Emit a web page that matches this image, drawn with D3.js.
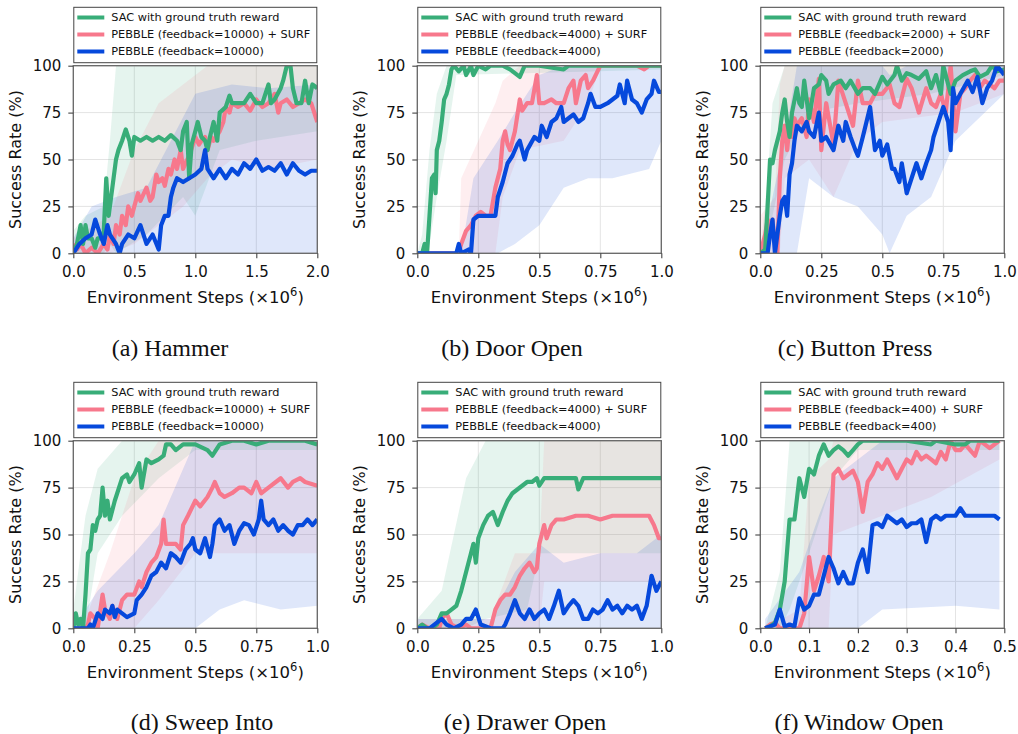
<!DOCTYPE html>
<html>
<head>
<meta charset="utf-8">
<script src="https://cdn.jsdelivr.net/npm/d3@7"></script>
<style>
body { margin: 0; background: #fff; }
text { font-family: "DejaVu Sans", sans-serif; }
</style>
</head>
<body>
<div id="chart"></div>
<script>
// ---- data: [step (x1e6), success %] ----
var yTicks = [0, 25, 50, 75, 100];
var xTicksLong = [0, 0.5, 1.0, 1.5, 2.0];
var xTickLabelsLong = ["0.0", "0.5", "1.0", "1.5", "2.0"];
var xTicksStd = [0, 0.25, 0.5, 0.75, 1.0];
var xTickLabelsStd = ["0.0", "0.25", "0.5", "0.75", "1.0"];
var xTicksShort = [0, 0.1, 0.2, 0.3, 0.4, 0.5];
var xTickLabelsShort = ["0.0", "0.1", "0.2", "0.3", "0.4", "0.5"];
var captions = ["(a) Hammer", "(b) Door Open", "(c) Button Press", "(d) Sweep Into", "(e) Drawer Open", "(f) Window Open"];
var feedback = ["10000", "4000", "2000", "10000", "4000", "400"];

var hammerSac = [[0,0],[0.03,5],[0.06,15],[0.08,5],[0.1,15],[0.12,8],[0.15,8],[0.18,3],[0.2,8],[0.23,8],[0.25,12],[0.27,40],[0.29,20],[0.31,30],[0.33,40],[0.35,50],[0.37,55],[0.4,60],[0.43,66],[0.46,60],[0.48,52],[0.5,62],[0.55,60],[0.6,62],[0.65,60],[0.7,62],[0.75,60],[0.8,63],[0.85,60],[0.88,55],[0.9,65],[0.93,70],[0.95,40],[0.97,58],[1.0,65],[1.02,70],[1.05,62],[1.08,60],[1.1,55],[1.12,62],[1.15,70],[1.18,60],[1.2,75],[1.25,78],[1.28,84],[1.3,80],[1.35,80],[1.4,80],[1.45,85],[1.5,80],[1.55,80],[1.6,90],[1.62,80],[1.65,82],[1.7,88],[1.72,92],[1.75,100],[1.78,100],[1.8,88],[1.83,80],[1.87,80],[1.9,92],[1.93,80],[1.96,90],[2.0,88]];
var hammerSurf = [[0,5],[0.03,2],[0.06,5],[0.1,0],[0.15,3],[0.2,0],[0.25,5],[0.28,2],[0.3,10],[0.33,5],[0.35,15],[0.38,10],[0.4,20],[0.43,15],[0.45,25],[0.48,20],[0.5,25],[0.53,32],[0.55,28],[0.6,35],[0.63,28],[0.65,30],[0.68,42],[0.7,38],[0.73,40],[0.75,36],[0.78,45],[0.8,42],[0.83,50],[0.85,45],[0.88,55],[0.9,45],[0.92,48],[0.95,52],[0.98,58],[1.0,62],[1.03,58],[1.05,60],[1.08,62],[1.1,55],[1.13,62],[1.15,60],[1.2,65],[1.23,70],[1.25,78],[1.28,75],[1.3,80],[1.35,78],[1.4,80],[1.45,76],[1.5,82],[1.55,78],[1.6,80],[1.65,85],[1.68,75],[1.7,80],[1.75,82],[1.8,78],[1.85,80],[1.9,82],[1.95,80],[2.0,70]];
var hammerPebble = [[0,0],[0.05,5],[0.1,8],[0.15,10],[0.18,18],[0.22,10],[0.25,5],[0.28,15],[0.3,10],[0.35,5],[0.38,0],[0.4,5],[0.45,10],[0.5,8],[0.55,15],[0.6,5],[0.65,10],[0.7,2],[0.72,15],[0.75,20],[0.78,20],[0.8,30],[0.82,35],[0.85,40],[0.9,38],[0.95,40],[1.0,42],[1.05,45],[1.08,55],[1.1,45],[1.15,40],[1.2,45],[1.25,40],[1.3,45],[1.35,42],[1.4,48],[1.45,45],[1.5,50],[1.55,44],[1.6,46],[1.65,44],[1.7,48],[1.75,42],[1.8,48],[1.85,44],[1.9,42],[1.95,44],[2.0,44]];
var hammerSacBand = [[0,0,12],[0.1,0,20],[0.25,0,25],[0.3,5,60],[0.35,0,100],[0.6,10,100],[0.9,30,100],[1.0,20,100],[1.2,55,100],[1.5,60,100],[2.0,65,100]];
var hammerSurfBand = [[0,0,8],[0.3,0,20],[0.5,5,55],[0.7,15,80],[0.9,25,90],[1.1,40,100],[1.3,50,100],[1.6,45,100],[2.0,50,100]];
var hammerPebbleBand = [[0,0,8],[0.15,0,25],[0.35,0,30],[0.6,0,35],[0.8,0,60],[1.0,0,85],[1.3,0,90],[1.6,0,88],[2.0,0,90]];

var doorSac = [[0,0],[0.02,0],[0.03,5],[0.04,0],[0.05,20],[0.06,40],[0.07,42],[0.075,32],[0.08,55],[0.09,60],[0.1,70],[0.11,82],[0.12,85],[0.13,90],[0.14,98],[0.15,100],[0.17,97],[0.19,100],[0.2,95],[0.22,100],[0.23,95],[0.25,100],[0.28,98],[0.3,100],[0.35,100],[0.38,98],[0.42,94],[0.44,100],[0.5,100],[0.6,98],[0.62,100],[1.0,100]];
var doorSurf = [[0,0],[0.17,0],[0.18,5],[0.2,12],[0.22,15],[0.24,20],[0.26,22],[0.28,20],[0.3,20],[0.32,35],[0.34,45],[0.35,60],[0.36,65],[0.37,58],[0.38,55],[0.39,60],[0.4,65],[0.42,82],[0.43,76],[0.45,80],[0.47,80],[0.49,95],[0.5,80],[0.52,80],[0.55,82],[0.57,80],[0.6,80],[0.62,88],[0.64,92],[0.65,80],[0.67,92],[0.69,95],[0.7,88],[0.72,92],[0.75,100],[0.9,100],[0.93,98],[0.95,100],[1.0,100]];
var doorPebble = [[0,0],[0.16,0],[0.17,5],[0.18,0],[0.21,2],[0.22,0],[0.23,18],[0.25,20],[0.32,20],[0.33,30],[0.35,38],[0.37,48],[0.39,52],[0.41,58],[0.42,60],[0.44,50],[0.45,55],[0.48,62],[0.5,60],[0.51,68],[0.53,62],[0.55,70],[0.57,72],[0.59,78],[0.6,70],[0.62,72],[0.64,74],[0.66,70],[0.68,72],[0.7,80],[0.71,85],[0.73,78],[0.75,78],[0.78,80],[0.8,82],[0.82,84],[0.83,90],[0.85,80],[0.86,92],[0.88,82],[0.9,80],[0.92,75],[0.94,82],[0.96,85],[0.97,92],[0.99,86],[1.0,86]];
var doorSacBand = [[0,0,0],[0.02,0,10],[0.05,5,55],[0.08,30,85],[0.12,60,100],[0.16,95,100],[1.0,98,100]];
var doorSurfBand = [[0,0,0],[0.17,0,0],[0.18,0,40],[0.25,0,60],[0.32,0,80],[0.35,30,92],[0.42,55,100],[0.6,60,100],[0.7,80,100],[0.75,100,100],[1.0,100,100]];
var doorPebbleBand = [[0,0,0],[0.18,0,0],[0.23,0,40],[0.33,0,60],[0.4,5,75],[0.5,15,95],[0.6,35,100],[0.7,40,100],[0.8,40,100],[0.95,45,100],[1.0,60,100]];

var buttonSac = [[0,0],[0.02,2],[0.03,25],[0.04,50],[0.05,48],[0.06,55],[0.08,65],[0.09,75],[0.1,82],[0.11,70],[0.12,62],[0.13,75],[0.15,88],[0.16,80],[0.17,78],[0.18,92],[0.2,72],[0.22,88],[0.24,90],[0.25,95],[0.27,92],[0.28,85],[0.3,90],[0.33,92],[0.35,88],[0.37,92],[0.4,85],[0.42,88],[0.45,88],[0.47,85],[0.5,94],[0.52,90],[0.55,95],[0.56,100],[0.58,92],[0.6,96],[0.62,95],[0.65,93],[0.68,97],[0.7,88],[0.72,95],[0.74,85],[0.75,100],[0.77,90],[0.78,85],[0.8,92],[0.83,95],[0.86,97],[0.88,98],[0.9,94],[0.93,96],[0.95,100],[0.97,97],[1.0,98]];
var buttonSurf = [[0,0],[0.02,10],[0.03,18],[0.04,12],[0.05,18],[0.06,5],[0.07,0],[0.08,40],[0.09,60],[0.1,68],[0.11,55],[0.12,68],[0.13,62],[0.14,72],[0.15,68],[0.17,72],[0.19,62],[0.2,82],[0.22,70],[0.24,93],[0.25,55],[0.27,80],[0.3,58],[0.32,92],[0.35,80],[0.38,68],[0.4,92],[0.42,80],[0.45,80],[0.47,85],[0.5,85],[0.53,90],[0.55,80],[0.57,78],[0.6,93],[0.62,88],[0.65,75],[0.68,88],[0.7,80],[0.72,78],[0.74,85],[0.76,75],[0.78,100],[0.8,65],[0.82,85],[0.84,88],[0.86,92],[0.88,95],[0.9,88],[0.92,92],[0.94,90],[0.96,88],[0.98,92],[1.0,92]];
var buttonPebble = [[0,0],[0.03,0],[0.04,10],[0.05,18],[0.06,0],[0.08,20],[0.09,28],[0.1,30],[0.11,20],[0.12,42],[0.13,48],[0.14,60],[0.15,68],[0.17,65],[0.19,70],[0.2,65],[0.22,62],[0.24,75],[0.25,60],[0.27,62],[0.3,55],[0.32,68],[0.34,60],[0.35,70],[0.37,62],[0.39,55],[0.4,52],[0.42,62],[0.45,78],[0.47,55],[0.49,60],[0.5,52],[0.52,58],[0.54,45],[0.55,45],[0.57,38],[0.58,48],[0.6,32],[0.62,40],[0.64,48],[0.66,40],[0.68,48],[0.7,55],[0.71,62],[0.73,70],[0.75,78],[0.77,70],[0.78,55],[0.79,88],[0.8,80],[0.82,85],[0.85,92],[0.87,86],[0.89,94],[0.91,80],[0.93,88],[0.95,92],[0.97,100],[1.0,95]];
var buttonSacBand = [[0,0,0],[0.03,0,40],[0.05,20,80],[0.1,50,100],[0.2,75,100],[0.4,80,100],[0.7,85,100],[1.0,95,100]];
var buttonSurfBand = [[0,0,20],[0.06,0,30],[0.08,0,90],[0.1,40,100],[0.2,50,100],[0.3,30,100],[0.4,60,100],[0.5,70,100],[0.8,75,100],[1.0,85,100]];
var buttonPebbleBand = [[0,0,0],[0.05,0,30],[0.1,0,60],[0.15,0,100],[0.2,40,100],[0.3,30,100],[0.4,25,100],[0.5,10,100],[0.53,0,95],[0.6,20,100],[0.7,30,100],[0.8,60,100],[1.0,85,100]];

var sweepSac = [[0,0],[0.01,8],[0.02,2],[0.03,5],[0.04,0],[0.05,18],[0.06,40],[0.07,42],[0.08,55],[0.09,52],[0.1,58],[0.11,60],[0.12,75],[0.13,60],[0.14,68],[0.15,58],[0.17,68],[0.18,72],[0.2,80],[0.22,82],[0.23,78],[0.25,82],[0.27,88],[0.28,75],[0.3,90],[0.32,88],[0.35,90],[0.37,92],[0.38,98],[0.4,98],[0.42,95],[0.45,98],[0.5,98],[0.55,95],[0.57,92],[0.6,98],[0.65,100],[0.7,100],[0.75,98],[0.8,100],[0.9,100],[0.95,100],[1.0,98]];
var sweepSurf = [[0,0],[0.05,0],[0.06,2],[0.07,8],[0.09,5],[0.1,0],[0.12,18],[0.13,10],[0.15,5],[0.16,12],[0.18,5],[0.2,15],[0.22,18],[0.25,18],[0.27,25],[0.28,22],[0.3,30],[0.32,35],[0.34,38],[0.36,45],[0.37,58],[0.38,45],[0.4,45],[0.42,45],[0.44,42],[0.45,55],[0.47,60],[0.5,68],[0.52,65],[0.55,70],[0.57,75],[0.58,78],[0.6,72],[0.62,70],[0.65,72],[0.68,75],[0.7,75],[0.73,72],[0.75,78],[0.77,72],[0.8,75],[0.83,78],[0.85,80],[0.88,75],[0.9,78],[0.93,80],[0.95,78],[1.0,76]];
var sweepPebble = [[0,0],[0.06,0],[0.07,2],[0.08,0],[0.1,8],[0.12,5],[0.13,10],[0.15,8],[0.16,12],[0.17,6],[0.18,10],[0.2,8],[0.22,6],[0.25,8],[0.26,15],[0.28,18],[0.3,22],[0.32,28],[0.34,30],[0.36,35],[0.38,32],[0.4,40],[0.42,38],[0.44,35],[0.46,42],[0.48,45],[0.49,48],[0.5,42],[0.52,40],[0.54,48],[0.56,38],[0.57,45],[0.58,55],[0.6,58],[0.62,52],[0.64,55],[0.66,45],[0.68,52],[0.7,56],[0.72,55],[0.74,50],[0.76,58],[0.77,68],[0.78,58],[0.8,55],[0.82,58],[0.84,52],[0.86,55],[0.88,52],[0.9,50],[0.92,55],[0.94,55],[0.96,58],[0.98,55],[1.0,58]];
var sweepSacBand = [[0,0,10],[0.05,0,60],[0.1,40,85],[0.2,60,100],[0.35,80,100],[0.5,95,100],[1.0,95,100]];
var sweepSurfBand = [[0,0,0],[0.05,0,5],[0.15,0,40],[0.25,0,80],[0.35,15,100],[0.5,40,100],[0.7,40,100],[1.0,40,100]];
var sweepPebbleBand = [[0,0,0],[0.1,0,20],[0.25,0,40],[0.35,0,55],[0.5,0,100],[0.6,10,100],[0.7,15,100],[0.85,10,100],[1.0,12,100]];

var drawerSac = [[0,0],[0.02,2],[0.04,0],[0.06,0],[0.08,2],[0.1,8],[0.12,8],[0.14,10],[0.16,12],[0.18,20],[0.2,30],[0.22,40],[0.23,45],[0.24,35],[0.25,48],[0.27,55],[0.29,60],[0.31,62],[0.33,55],[0.35,62],[0.37,68],[0.39,72],[0.41,74],[0.43,76],[0.45,78],[0.47,78],[0.49,80],[0.5,76],[0.52,80],[0.55,80],[0.6,80],[0.65,80],[0.66,74],[0.68,80],[0.75,80],[0.8,80],[0.9,80],[1.0,80]];
var drawerSurf = [[0,0],[0.02,2],[0.05,0],[0.09,0],[0.1,5],[0.12,8],[0.14,2],[0.17,0],[0.2,2],[0.22,0],[0.3,0],[0.31,5],[0.32,10],[0.34,15],[0.36,18],[0.38,18],[0.4,22],[0.42,28],[0.44,32],[0.46,35],[0.48,30],[0.49,32],[0.5,45],[0.51,50],[0.52,55],[0.53,48],[0.55,55],[0.57,58],[0.6,58],[0.65,60],[0.7,60],[0.75,58],[0.8,60],[0.85,60],[0.9,60],[0.95,60],[0.97,55],[0.99,48],[1.0,48]];
var drawerPebble = [[0,0],[0.05,0],[0.1,5],[0.12,2],[0.15,0],[0.18,2],[0.2,5],[0.22,5],[0.24,10],[0.26,2],[0.3,0],[0.35,0],[0.36,2],[0.38,8],[0.4,15],[0.42,8],[0.44,5],[0.46,10],[0.48,5],[0.5,8],[0.52,10],[0.54,5],[0.56,12],[0.58,20],[0.6,8],[0.62,12],[0.64,15],[0.66,12],[0.68,5],[0.7,5],[0.72,10],[0.74,8],[0.76,10],[0.78,15],[0.8,10],[0.82,12],[0.84,8],[0.86,12],[0.88,10],[0.9,12],[0.92,5],[0.94,12],[0.96,28],[0.98,20],[1.0,25]];
var drawerSacBand = [[0,0,5],[0.1,0,20],[0.2,0,80],[0.28,5,100],[0.45,10,100],[0.5,40,100],[1.0,40,100]];
var drawerSurfBand = [[0,0,5],[0.3,0,5],[0.4,0,40],[0.5,0,40],[0.52,25,100],[1.0,25,100]];
var drawerPebbleBand = [[0,0,5],[0.3,0,5],[0.4,0,30],[0.5,0,45],[0.6,0,35],[0.75,0,40],[0.9,0,40],[1.0,0,50]];

var windowSac = [[0.01,0],[0.02,1],[0.03,3],[0.04,10],[0.05,25],[0.06,58],[0.07,58],[0.08,80],[0.09,70],[0.1,85],[0.11,82],[0.12,92],[0.13,98],[0.14,92],[0.15,95],[0.16,97],[0.17,95],[0.18,92],[0.19,95],[0.2,98],[0.21,100],[0.3,100],[0.35,98],[0.36,100],[0.4,98],[0.42,98],[0.43,100],[0.49,100]];
var windowSurf = [[0.01,0],[0.02,2],[0.03,3],[0.04,0],[0.08,0],[0.09,8],[0.1,38],[0.11,20],[0.12,28],[0.13,38],[0.14,25],[0.15,82],[0.16,85],[0.17,80],[0.18,82],[0.19,84],[0.2,78],[0.21,62],[0.22,78],[0.23,82],[0.24,88],[0.25,85],[0.26,90],[0.27,85],[0.28,80],[0.29,85],[0.3,90],[0.31,88],[0.32,94],[0.33,90],[0.34,92],[0.35,90],[0.36,88],[0.37,94],[0.38,90],[0.39,100],[0.4,95],[0.41,95],[0.42,98],[0.43,95],[0.44,92],[0.45,100],[0.46,98],[0.47,96],[0.48,98],[0.49,100]];
var windowPebble = [[0.01,0],[0.02,1],[0.03,2],[0.04,10],[0.05,1],[0.06,2],[0.07,1],[0.08,16],[0.09,10],[0.1,12],[0.11,18],[0.12,18],[0.13,28],[0.14,38],[0.15,32],[0.16,24],[0.17,30],[0.18,24],[0.19,24],[0.2,35],[0.21,42],[0.22,30],[0.23,55],[0.24,56],[0.25,54],[0.26,60],[0.27,58],[0.28,56],[0.29,58],[0.3,54],[0.31,56],[0.32,56],[0.33,58],[0.34,46],[0.35,58],[0.36,60],[0.37,58],[0.38,60],[0.4,60],[0.41,64],[0.42,60],[0.48,60],[0.49,58]];
var windowSacBand = [[0.01,0,0],[0.04,0,30],[0.06,10,100],[0.1,40,100],[0.15,80,100],[0.2,95,100],[0.49,95,100]];
var windowSurfBand = [[0.01,0,0],[0.08,0,10],[0.1,0,80],[0.14,0,90],[0.15,50,100],[0.25,60,100],[0.35,70,100],[0.49,90,100]];
var windowPebbleBand = [[0.01,0,5],[0.08,0,30],[0.12,0,60],[0.15,0,80],[0.2,0,90],[0.25,10,100],[0.4,12,100],[0.49,10,100]];

// ---- panel table built from the arrays above ----
var panels = [
  {xMax: 2.0, xTicks: xTicksLong, xLabels: xTickLabelsLong, sac: hammerSac, surf: hammerSurf, peb: hammerPebble, sacBand: hammerSacBand, surfBand: hammerSurfBand, pebBand: hammerPebbleBand},
  {xMax: 1.0, xTicks: xTicksStd, xLabels: xTickLabelsStd, sac: doorSac, surf: doorSurf, peb: doorPebble, sacBand: doorSacBand, surfBand: doorSurfBand, pebBand: doorPebbleBand},
  {xMax: 1.0, xTicks: xTicksStd, xLabels: xTickLabelsStd, sac: buttonSac, surf: buttonSurf, peb: buttonPebble, sacBand: buttonSacBand, surfBand: buttonSurfBand, pebBand: buttonPebbleBand},
  {xMax: 1.0, xTicks: xTicksStd, xLabels: xTickLabelsStd, sac: sweepSac, surf: sweepSurf, peb: sweepPebble, sacBand: sweepSacBand, surfBand: sweepSurfBand, pebBand: sweepPebbleBand},
  {xMax: 1.0, xTicks: xTicksStd, xLabels: xTickLabelsStd, sac: drawerSac, surf: drawerSurf, peb: drawerPebble, sacBand: drawerSacBand, surfBand: drawerSurfBand, pebBand: drawerPebbleBand},
  {xMax: 0.5, xTicks: xTicksShort, xLabels: xTickLabelsShort, sac: windowSac, surf: windowSurf, peb: windowPebble, sacBand: windowSacBand, surfBand: windowSurfBand, pebBand: windowPebbleBand}
];

var colors = {sac: "#38ad78", surf: "#f7788c", peb: "#0649dc"};
var lefts = [73.3, 417.3, 760.3], tops = [65.7, 440.7];
var pw = 244, ph = 187.6;
var capX = [170, 512, 855, 202, 525, 859];

var svg = d3.select("#chart").append("svg")
    .attr("width", 1018)
    .attr("height", 734)

panels.forEach(function(p, i) {
    var col = i % 3, row = Math.floor(i / 3);
    var x0 = lefts[col], y0 = tops[row];
    var x = d3.scaleLinear().domain([0, p.xMax]).range([0, pw]);
    var y = d3.scaleLinear().domain([0, 100]).range([ph, 0]);

    var g = svg.append("g").attr("transform", "translate(" + x0 + "," + y0 + ")");

    g.append("clipPath").attr("id", "clip" + i)
	.append("rect").attr("width", pw).attr("height", ph);

    // grid
    g.append("g").selectAll("line").data(yTicks).enter().append("line")
	.attr("x1", 0).attr("x2", pw)
	.attr("y1", function(d) { return y(d); }).attr("y2", function(d) { return y(d); })
	.attr("stroke", "#e4e4e4").attr("stroke-width", 1);
    g.append("g").selectAll("line").data(p.xTicks).enter().append("line")
	.attr("y1", 0).attr("y2", ph)
	.attr("x1", function(d) { return x(d); }).attr("x2", function(d) { return x(d); })
	.attr("stroke", "#e4e4e4").attr("stroke-width", 1);

    var plot = g.append("g").attr("clip-path", "url(#clip" + i + ")");

    var area = d3.area()
	.x(function(d) { return x(d[0]); })
	.y0(function(d) { return y(d[1]); })
	.y1(function(d) { return y(d[2]); });
    var line = d3.line()
	.x(function(d) { return x(d[0]); })
	.y(function(d) { return y(d[1]); });

    [["sacBand", "sac"], ["surfBand", "surf"], ["pebBand", "peb"]].forEach(function(b) {
	plot.append("path").attr("d", area(p[b[0]]))
	    .attr("fill", colors[b[1]]).attr("fill-opacity", 0.13);
    });
    ["surf", "sac", "peb"].forEach(function(k) {
	plot.append("path").attr("d", line(p[k]))
	    .attr("fill", "none").attr("stroke", colors[k])
	    .attr("stroke-width", 4.2).attr("stroke-linejoin", "round");
    });

    // frame
    g.append("rect").attr("width", pw).attr("height", ph)
	.attr("fill", "none").attr("stroke", "#666").attr("stroke-width", 1.3);

    var yAxis = g.append("g").call(d3.axisLeft(y).tickValues(yTicks).tickSize(5).tickPadding(7));
    var xAxis = g.append("g").attr("transform", "translate(0," + ph + ")")
	.call(d3.axisBottom(x).tickValues(p.xTicks).tickSize(5).tickPadding(8)
	      .tickFormat(function(d, j) { return p.xLabels[j]; }));
    [yAxis, xAxis].forEach(function(a) {
	a.select(".domain").remove();
	a.selectAll("line").attr("stroke", "#444").attr("stroke-width", 1.1);
	a.selectAll("text").style("font-family", "DejaVu Sans").style("font-size", "15px").attr("fill", "#111");
    });

    // axis titles
    var xt = g.append("text")
	.attr("x", pw / 2).attr("y", ph + 50)
	.style("text-anchor", "middle").style("font-size", "16.5px").attr("fill", "#111");
    xt.append("tspan").text("Environment Steps (\u00d710");
    xt.append("tspan").attr("dy", -7).style("font-size", "11.5px").text("6");
    xt.append("tspan").attr("dy", 7).text(")");

    g.append("text")
	.attr("transform", "translate(" + (-52) + "," + (ph / 2) + ") rotate(-90)")
	.style("text-anchor", "middle").style("font-size", "16px").attr("fill", "#111")
	.text("Success Rate (%)");

    // legend
    var lg = g.append("g").attr("transform", "translate(0," + (-58.4) + ")");
    lg.append("rect").attr("x", 0.5).attr("y", 0).attr("width", pw - 1).attr("height", 55.4)
	.attr("fill", "#fff").attr("stroke", "#444").attr("stroke-width", 1);
    var entries = [
	["sac", "SAC with ground truth reward"],
	["surf", "PEBBLE (feedback=" + feedback[i] + ") + SURF"],
	["peb", "PEBBLE (feedback=" + feedback[i] + ")"]
    ];
    entries.forEach(function(e, j) {
	var ly = 10.2 + j * 17;
	lg.append("line").attr("x1", 4).attr("x2", 31).attr("y1", ly).attr("y2", ly)
	    .attr("stroke", colors[e[0]]).attr("stroke-width", 4);
	lg.append("text").attr("x", 38).attr("y", ly).attr("dy", "0.35em")
	    .style("font-size", "11.3px").attr("fill", "#111").text(e[1]);
    });

    // caption
    svg.append("text")
	.attr("x", capX[i]).attr("y", row === 0 ? 356 : 730)
	.style("text-anchor", "middle")
	.style("font-family", "'Liberation Serif', serif").style("font-size", "24px")
	.attr("fill", "#111")
	.text(captions[i]);
});
</script>
</body>
</html>
